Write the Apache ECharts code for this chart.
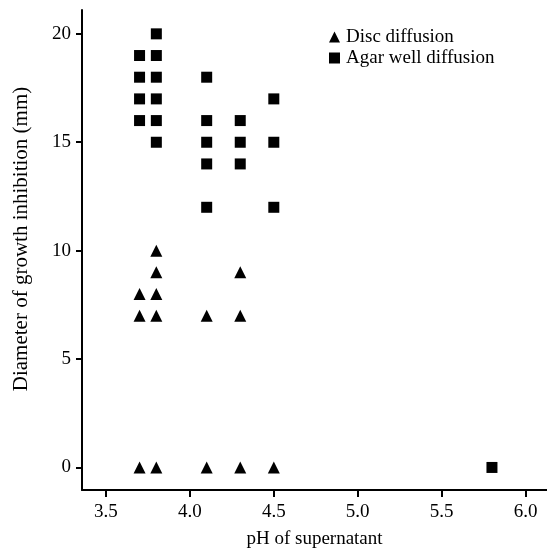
<!DOCTYPE html>
<html>
<head>
<meta charset="utf-8">
<script src="https://cdn.jsdelivr.net/npm/echarts@6/dist/echarts.min.js"></script>
<style>
html,body{margin:0;padding:0;background:#fff;}
#chart{width:547px;height:554px;}
</style>
</head>
<body>
<div id="chart"></div>
<script>
// Disc diffusion (triangles)
const discPH = [3.7, 3.7, 3.7, 3.8, 3.8, 3.8, 3.8, 3.8, 4.1, 4.1, 4.3, 4.3, 4.3, 4.5];
const discDiameter = [8, 7, 0, 10, 9, 8, 7, 0, 7, 0, 9, 7, 0, 0];
// Agar well diffusion (squares)
const agarPH = [3.7, 3.7, 3.7, 3.7, 3.8, 3.8, 3.8, 3.8, 3.8, 3.8, 4.1, 4.1, 4.1, 4.1, 4.1, 4.3, 4.3, 4.3, 4.5, 4.5, 4.5, 5.8];
const agarDiameter = [19, 18, 17, 16, 20, 19, 18, 17, 16, 15, 18, 16, 15, 14, 12, 16, 15, 14, 17, 15, 12, 0];
// Tick labels
const xTicks = [3.5, 4.0, 4.5, 5.0, 5.5, 6.0];
const yTicks = [0, 5, 10, 15, 20];

const seriesNames = ['Disc diffusion', 'Agar well diffusion'];
const font = '"Liberation Serif", "Times New Roman", serif';

const chart = echarts.init(document.getElementById('chart'), null, {renderer: 'canvas'});
chart.setOption({
  animation: false,
  backgroundColor: '#ffffff',
  grid: {left: 82, top: 10, right: 0, bottom: 59, containLabel: false},
  legend: {
    orient: 'vertical',
    left: 324,
    top: 22,
    itemWidth: 11,
    itemHeight: 11,
    itemGap: 1,
    textStyle: {fontFamily: font, fontSize: 19, color: '#000', lineHeight: 20, padding: [0, 0, 0, 1]},
    data: [
      {name: seriesNames[0], icon: 'triangle'},
      {name: seriesNames[1], icon: 'rect'}
    ]
  },
  xAxis: {
    type: 'value',
    min: 3.357,
    max: 6.128,
    name: 'pH of supernatant',
    nameLocation: 'middle',
    nameGap: 40,
    nameTextStyle: {fontFamily: font, fontSize: 19, color: '#000'},
    splitLine: {show: false},
    axisLine: {show: true, onZero: false, lineStyle: {color: '#000', width: 2}},
    axisTick: {show: true, length: 7, lineStyle: {color: '#000', width: 2}, customValues: xTicks},
    axisLabel: {fontFamily: font, fontSize: 19, color: '#000', margin: 13, customValues: xTicks,
      formatter: v => v.toFixed(1)}
  },
  yAxis: {
    type: 'value',
    min: -1.04,
    max: 21.1,
    name: 'Diameter of growth inhibition (mm)',
    nameLocation: 'middle',
    nameGap: 50,
    nameTextStyle: {fontFamily: font, fontSize: 21, color: '#000', padding: [0, 0, 0, 22]},
    splitLine: {show: false},
    axisLine: {show: true, onZero: false, lineStyle: {color: '#000', width: 2}},
    axisTick: {show: true, length: 6, lineStyle: {color: '#000', width: 2}, customValues: yTicks},
    axisLabel: {fontFamily: font, fontSize: 19, color: '#000', margin: 11, customValues: yTicks,
      formatter: v => String(v)}
  },
  series: [
    {
      name: seriesNames[0],
      type: 'scatter',
      symbol: 'triangle',
      symbolSize: 12,
      itemStyle: {color: '#000', opacity: 1},
      data: discPH.map((x, i) => [x, discDiameter[i]])
    },
    {
      name: seriesNames[1],
      type: 'scatter',
      symbol: 'rect',
      symbolSize: 11,
      itemStyle: {color: '#000', opacity: 1},
      data: agarPH.map((x, i) => [x, agarDiameter[i]])
    }
  ]
});
</script>
</body>
</html>
